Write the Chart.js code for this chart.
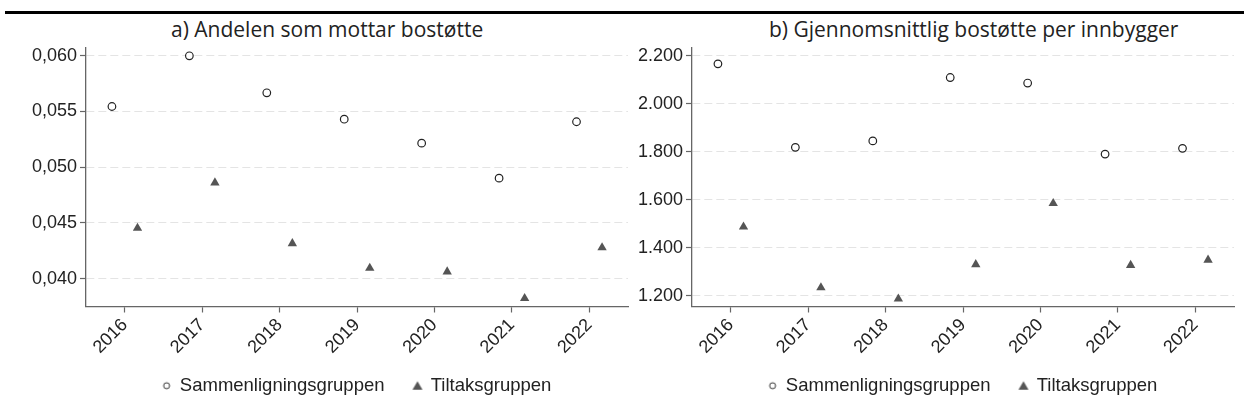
<!DOCTYPE html>
<html>
<head>
<meta charset="utf-8">
<script src="https://cdn.jsdelivr.net/npm/chart.js@4.4.1/dist/chart.umd.min.js"></script>
<style>
    html, body { margin: 0; padding: 0; background: #fff; }
    #wrap { position: relative; width: 1244px; height: 416px; overflow: hidden; }
    .rule { position: absolute; left: 5px; right: 0; top: 11px; height: 3px; background: #000; }
    .ptitle { position: absolute; top: 15px; font-family: 'Open Sans', sans-serif; font-size: 21px; color: #222; white-space: nowrap; }
    canvas { position: absolute; top: 0; }
</style>
</head>
<body>
<div id="wrap">
    <div class="rule"></div>
    <div class="ptitle" style="left:171px">a) Andelen som mottar bostøtte</div>
    <div class="ptitle" style="left:769px">b) Gjennomsnittlig bostøtte per innbygger</div>
    <canvas id="chartA" width="634" height="416" style="left:0"></canvas>
    <canvas id="chartB" width="610" height="416" style="left:634px"></canvas>
</div>
<script>
    // 年份與資料
    const years = [2016, 2017, 2018, 2019, 2020, 2021, 2022];
    const seriesNames = ['Sammenligningsgruppen', 'Tiltaksgruppen'];

    // a) Andelen som mottar bostøtte
    const andelSammen = [0.05545, 0.0600, 0.05668, 0.05431, 0.05216, 0.04902, 0.05408];
    const andelTiltak = [0.04454, 0.04861, 0.04316, 0.04095, 0.04062, 0.03823, 0.04278];
    const yTicksA = [0.040, 0.045, 0.050, 0.055, 0.060];

    // b) Gjennomsnittlig bostøtte per innbygger
    const bostotteSammen = [2167, 1819, 1846, 2110, 2087, 1791, 1815];
    const bostotteTiltak = [1488, 1235, 1188, 1331, 1586, 1328, 1350];
    const yTicksB = [1200, 1400, 1600, 1800, 2000, 2200];

    // 兩組點左右錯開
    const dodge = 0.165;

    Chart.defaults.font.family = "'Liberation Sans', Arial, sans-serif";
    Chart.defaults.font.size = 18;
    Chart.defaults.color = '#222';

    // 圖例用的小記號
    function legendMark(kind) {
        const c = document.createElement('canvas');
        c.width = 14;
        c.height = 14;
        const g = c.getContext('2d');
        if (kind === 'circle') {
            g.beginPath();
            g.arc(7, 7, 3, 0, Math.PI * 2);
            g.fillStyle = '#fff';
            g.fill();
            g.lineWidth = 1;
            g.strokeStyle = '#333';
            g.stroke();
        } else {
            g.beginPath();
            g.moveTo(7, 2.5);
            g.lineTo(12, 11);
            g.lineTo(2, 11);
            g.closePath();
            g.fillStyle = '#555';
            g.fill();
        }
        return c;
    }
    const legendMarks = [legendMark('circle'), legendMark('triangle')];

    // 圖例往上挪一點（x 軸標籤需要較高的區塊，不然會被裁掉）
    const legendShift = {
        id: 'legendShift',
        afterLayout(chart, args, opts) {
            const lg = chart.legend;
            if (lg) {
                lg.top -= opts.dy;
                lg.bottom -= opts.dy;
            }
        }
    };

    const fmtA = v => v.toFixed(3).replace('.', ',');
    const fmtB = v => Math.round(v).toString().replace(/\B(?=(\d{3})+(?!\d))/g, '.');

    function makeChart(id, sammen, tiltak, yMin, yMax, yTicks, fmt, pad, yWidth) {
        return new Chart(document.getElementById(id), {
            type: 'scatter',
            data: {
                datasets: [
                    {
                        label: seriesNames[0],
                        data: years.map((y, i) => ({ x: y - dodge, y: sammen[i] })),
                        pointStyle: 'circle',
                        pointRadius: 3.8,
                        pointBorderWidth: 1.2,
                        pointBorderColor: '#222',
                        pointBackgroundColor: '#fff'
                    },
                    {
                        label: seriesNames[1],
                        data: years.map((y, i) => ({ x: y + dodge, y: tiltak[i] })),
                        pointStyle: 'triangle',
                        pointRadius: 5.4,
                        pointBorderWidth: 0,
                        pointBorderColor: '#555',
                        pointBackgroundColor: '#555'
                    }
                ]
            },
            plugins: [legendShift],
            options: {
                responsive: false,
                animation: false,
                layout: { padding: pad },
                plugins: {
                    tooltip: { enabled: false },
                    legendShift: { dy: 11 },
                    legend: {
                        position: 'bottom',
                        fullSize: false,
                        labels: {
                            usePointStyle: true,
                            boxWidth: 8,
                            boxHeight: 8,
                            padding: 29,
                            color: '#222',
                            font: { size: 18.5 },
                            generateLabels: function (chart) {
                                const items = Chart.defaults.plugins.legend.labels.generateLabels(chart);
                                items.forEach((it, i) => { it.pointStyle = legendMarks[i]; });
                                return items;
                            }
                        }
                    }
                },
                scales: {
                    x: {
                        type: 'linear',
                        min: 2015.5,
                        max: 2022.5,
                        afterBuildTicks: s => { s.ticks = years.map(v => ({ value: v })); },
                        afterFit: s => { s.height = 52; },
                        grid: {
                            drawOnChartArea: false,
                            tickLength: 6,
                            tickColor: '#666',
                            tickWidth: 1.2
                        },
                        border: { color: '#666', width: 1.3 },
                        ticks: {
                            autoSkip: false,
                            minRotation: 45,
                            maxRotation: 45,
                            padding: 2,
                            color: '#222',
                            callback: v => String(v)
                        }
                    },
                    y: {
                        min: yMin,
                        max: yMax,
                        afterBuildTicks: s => { s.ticks = yTicks.map(v => ({ value: v })); },
                        afterFit: s => { s.width = yWidth; },
                        grid: {
                            color: '#e4e4e4',
                            lineWidth: 1,
                            tickLength: 6,
                            tickColor: '#666',
                            tickWidth: 1.2
                        },
                        border: { color: '#666', width: 1.3, dash: [8, 4] },
                        ticks: {
                            padding: 3,
                            color: '#222',
                            callback: v => fmt(v)
                        }
                    }
                }
            }
        });
    }

    const chartA = makeChart('chartA', andelSammen, andelTiltak, 0.0375, 0.0607, yTicksA, fmtA,
        { top: 48, left: 0, right: 6, bottom: 0 }, 86);
    const chartB = makeChart('chartB', bostotteSammen, bostotteTiltak, 1156, 2233, yTicksB, fmtB,
        { top: 48, left: 0, right: 10, bottom: 0 }, 58);
</script>
</body>
</html>
